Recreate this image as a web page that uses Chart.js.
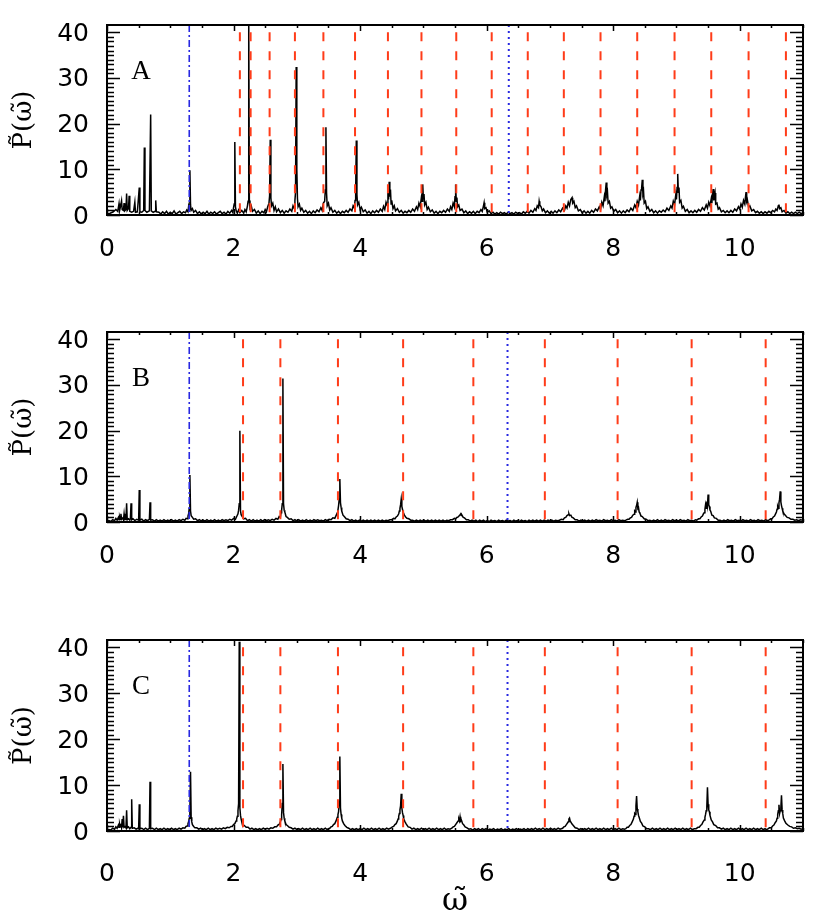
<!DOCTYPE html>
<html>
<head>
<meta charset="utf-8">
<title>Power spectra A, B, C</title>
<script src="https://cdn.jsdelivr.net/npm/chart.js@4.4.0/dist/chart.umd.min.js"></script>
<style>
  body { margin: 0; background: #fff; }
  #wrap { position: relative; width: 830px; height: 922px; }
  .panel { position: absolute; left: 0; width: 830px; }
</style>
</head>
<body>
<div id="wrap">
  <div class="panel" style="top:0;height:260px"><canvas id="chartA"></canvas></div>
  <div class="panel" style="top:307px;height:260px"><canvas id="chartB"></canvas></div>
  <div class="panel" style="top:615px;height:307px"><canvas id="chartC"></canvas></div>
</div>
<script>
// axis ranges and labels
const xRange = [0, 11];
const yRange = [0, 41.6];
const xMajorTicks = [0, 2, 4, 6, 8, 10];
const yMajorTicks = [0, 10, 20, 30, 40];
const yTitle = 'P\u0303(\u03C9\u0303)';
const xTitle = '\u03C9\u0303';

// reference frequencies (vertical lines)
const redA = [2.10, 2.27, 2.57, 2.97, 3.42, 3.92, 4.44, 4.97, 5.52, 6.08, 6.65, 7.22, 7.80, 8.38, 8.97, 9.55, 10.14, 10.73];
const redBC = [2.15, 2.74, 3.65, 4.68, 5.79, 6.92, 8.07, 9.24, 10.41];
const dashDotA = 1.30, dottedA = 6.35;
const dashDotBC = 1.30, dottedBC = 6.33;

// spectra: [omega, power]
const specA = [
  [0.00,0.2],[0.05,0.4],[0.10,0.7],[0.14,1.2],[0.17,0.8],[0.19,2.5],[0.20,1.0],[0.21,1.6],[0.23,3.1],[0.24,1.2],
  [0.26,1.0],[0.27,2.6],[0.28,0.9],[0.30,1.2],[0.31,4.7],[0.32,1.0],[0.34,1.4],[0.35,4.2],[0.36,0.8],[0.39,0.6],
  [0.42,0.8],[0.44,2.8],[0.45,0.6],[0.48,0.7],[0.51,6.0],[0.52,0.7],[0.55,0.6],[0.58,1.0],[0.59,14.8],[0.60,1.0],
  [0.63,0.6],[0.67,0.9],[0.69,22.0],[0.70,0.9],[0.73,0.6],[0.76,0.8],[0.77,3.2],[0.78,0.7],
  [0.82,0.6],[0.85,0.2],[0.88,0.7],[0.91,0.3],[0.94,0.8],[0.97,0.2],[1.00,0.6],[1.03,0.3],[1.06,0.9],[1.09,0.2],
  [1.12,0.5],[1.15,0.8],[1.18,0.3],[1.21,0.7],[1.24,0.5],[1.26,1.1],[1.28,0.7],[1.29,1.9],[1.30,1.2],[1.31,9.8],
  [1.32,2.2],[1.33,1.0],[1.35,1.4],[1.37,0.6],[1.40,1.0],[1.43,0.3],[1.46,0.7],[1.49,0.2],[1.52,0.6],[1.55,0.3],
  [1.58,0.8],[1.61,0.2],[1.64,0.6],[1.67,0.3],[1.70,0.7],[1.73,0.2],[1.76,0.5],[1.79,0.8],[1.82,0.3],[1.85,0.6],
  [1.88,0.2],[1.91,0.8],[1.94,0.4],[1.97,1.0],[1.99,0.5],[2.00,1.6],[2.01,2.4],[2.02,16.0],[2.03,1.8],[2.04,1.0],
  [2.06,0.4],[2.08,1.1],[2.10,0.5],[2.13,1.0],[2.16,0.4],[2.18,1.2],[2.20,0.7],[2.22,2.0],[2.23,3.0],[2.24,44],
  [2.25,3.2],[2.26,1.5],[2.28,2.0],[2.30,0.8],[2.33,1.2],[2.36,0.4],[2.39,0.9],[2.42,0.3],[2.45,0.8],[2.48,0.5],
  [2.50,1.2],[2.52,0.7],[2.54,1.8],[2.56,2.6],[2.57,4.2],[2.58,16.5],[2.59,3.8],[2.60,2.0],[2.62,2.6],[2.64,1.0],
  [2.66,1.8],[2.68,0.7],[2.71,1.3],[2.74,0.5],[2.77,1.0],[2.80,0.4],[2.83,0.9],[2.86,0.6],[2.89,1.3],[2.92,0.8],
  [2.94,2.0],[2.96,1.4],[2.97,3.2],[2.98,5.0],[2.99,32.4],[3.00,10.0],[3.01,3.6],[3.02,1.8],[3.04,2.4],[3.06,1.0],
  [3.08,1.5],[3.11,0.6],[3.14,1.0],[3.17,0.4],[3.20,0.8],[3.23,0.3],[3.26,0.9],[3.29,0.5],[3.32,1.1],[3.35,0.7],
  [3.38,1.6],[3.40,1.0],[3.42,2.6],[3.44,3.0],[3.45,5.5],[3.46,19.2],[3.47,4.8],[3.48,2.0],[3.50,2.6],[3.52,1.1],
  [3.54,1.6],[3.57,0.6],[3.60,1.0],[3.63,0.4],[3.66,0.8],[3.69,0.3],[3.72,0.8],[3.75,0.5],[3.78,1.0],[3.81,0.6],
  [3.84,1.3],[3.87,0.9],[3.89,2.0],[3.91,1.5],[3.92,3.2],[3.93,5.0],[3.94,16.3],[3.95,4.5],[3.96,2.2],[3.98,2.8],
  [4.00,1.2],[4.02,1.7],[4.05,0.7],[4.08,1.1],[4.11,0.4],[4.14,0.8],[4.17,0.3],[4.20,0.9],[4.23,0.5],[4.26,1.0],
  [4.29,0.6],[4.32,1.3],[4.35,0.8],[4.37,1.9],[4.39,1.2],[4.41,2.8],[4.43,2.0],[4.44,4.8],[4.45,3.4],[4.46,7.3],
  [4.47,4.0],[4.48,5.6],[4.49,2.4],[4.50,3.2],[4.52,1.4],[4.54,2.0],[4.56,0.9],[4.59,1.4],[4.62,0.6],[4.65,1.0],
  [4.68,0.4],[4.71,0.8],[4.74,0.5],[4.77,1.0],[4.80,0.6],[4.83,1.3],[4.86,0.8],[4.89,1.8],[4.91,1.2],[4.93,2.6],
  [4.95,1.8],[4.97,4.0],[4.98,3.0],[4.99,6.7],[5.00,3.6],[5.01,4.6],[5.02,2.2],[5.04,2.8],[5.06,1.2],[5.08,1.7],
  [5.11,0.7],[5.14,1.1],[5.17,0.4],[5.20,0.8],[5.23,0.3],[5.26,0.8],[5.29,0.5],[5.32,1.0],[5.35,0.6],[5.38,1.3],
  [5.41,0.8],[5.43,1.8],[5.45,1.2],[5.47,2.6],[5.49,1.8],[5.50,4.0],[5.51,6.7],[5.52,3.0],[5.53,3.8],[5.54,1.8],
  [5.56,2.2],[5.58,1.0],[5.61,1.3],[5.64,0.5],[5.67,0.9],[5.70,0.3],[5.73,0.7],[5.76,0.4],[5.79,0.8],[5.82,0.3],
  [5.85,0.8],[5.88,0.5],[5.91,1.2],[5.93,0.8],[5.95,2.0],[5.96,2.7],[5.97,1.4],[5.99,1.6],[6.01,0.6],[6.04,0.9],
  [6.07,0.3],[6.10,0.6],[6.13,0.2],[6.16,0.5],[6.19,0.2],[6.22,0.6],[6.25,0.3],[6.28,0.5],[6.31,0.2],[6.34,0.6],
  [6.37,0.3],[6.40,0.5],[6.43,0.2],[6.46,0.6],[6.49,0.3],[6.52,0.5],[6.55,0.2],[6.58,0.7],[6.61,0.4],[6.64,0.8],
  [6.67,0.4],[6.70,1.0],[6.73,0.6],[6.76,1.4],[6.78,1.0],[6.80,2.0],[6.82,1.6],[6.83,3.0],[6.84,2.2],[6.86,1.8],
  [6.88,0.9],[6.90,1.3],[6.93,0.5],[6.96,0.9],[6.99,0.4],[7.02,0.8],[7.05,0.4],[7.08,0.9],[7.11,0.5],[7.14,1.1],
  [7.17,0.7],[7.20,1.5],[7.23,1.0],[7.25,2.0],[7.27,1.5],[7.29,2.8],[7.31,2.0],[7.33,3.4],[7.35,3.8],[7.36,2.6],
  [7.38,3.0],[7.40,1.6],[7.42,2.0],[7.45,0.9],[7.48,1.2],[7.51,0.5],[7.54,0.9],[7.57,0.4],[7.60,0.8],[7.63,0.4],
  [7.66,1.0],[7.69,0.6],[7.72,1.3],[7.75,0.9],[7.78,1.8],[7.80,1.2],[7.82,2.8],[7.84,2.0],[7.86,4.0],[7.87,3.0],
  [7.88,5.5],[7.89,7.1],[7.90,4.4],[7.91,5.0],[7.92,2.6],[7.94,3.0],[7.96,1.5],[7.98,1.8],[8.01,0.8],[8.04,1.2],
  [8.07,0.5],[8.10,0.9],[8.13,0.4],[8.16,0.9],[8.19,0.5],[8.22,1.1],[8.25,0.7],[8.28,1.5],[8.31,1.0],[8.34,2.2],
  [8.36,1.6],[8.38,3.0],[8.40,2.2],[8.42,4.2],[8.43,3.2],[8.44,5.5],[8.45,6.0],[8.46,7.7],[8.47,4.6],[8.48,5.2],
  [8.49,2.6],[8.51,3.0],[8.53,1.4],[8.55,1.8],[8.58,0.8],[8.61,1.2],[8.64,0.5],[8.67,0.9],[8.70,0.4],[8.73,0.9],
  [8.76,0.6],[8.79,1.1],[8.82,0.7],[8.85,1.5],[8.88,1.0],[8.91,2.0],[8.93,1.5],[8.95,3.0],[8.97,2.2],[8.99,4.5],
  [9.00,3.4],[9.01,6.0],[9.02,9.0],[9.03,5.0],[9.04,6.0],[9.05,2.8],[9.07,3.2],[9.09,1.5],[9.11,1.9],[9.14,0.8],
  [9.17,1.2],[9.20,0.5],[9.23,0.9],[9.26,0.5],[9.29,1.0],[9.32,0.6],[9.35,1.2],[9.38,0.8],[9.41,1.6],[9.44,1.1],
  [9.47,2.2],[9.49,1.5],[9.51,2.8],[9.53,2.0],[9.55,3.6],[9.56,2.6],[9.57,4.5],[9.58,5.7],[9.59,3.2],[9.60,4.0],
  [9.61,4.8],[9.62,2.4],[9.64,2.6],[9.66,1.3],[9.68,1.6],[9.71,0.7],[9.74,1.0],[9.77,0.5],[9.80,0.9],[9.83,0.5],
  [9.86,1.0],[9.89,0.6],[9.92,1.3],[9.95,0.9],[9.98,1.8],[10.00,1.3],[10.02,2.4],[10.04,1.7],[10.06,3.2],[10.08,2.4],
  [10.09,3.8],[10.10,5.0],[10.11,3.0],[10.12,3.4],[10.14,1.7],[10.16,2.0],[10.19,0.9],[10.22,1.2],[10.25,0.5],[10.28,0.8],
  [10.31,0.4],[10.34,0.7],[10.37,0.3],[10.40,0.7],[10.43,0.4],[10.46,0.8],[10.49,0.5],[10.52,1.0],[10.55,0.7],[10.57,1.3],
  [10.59,1.0],[10.61,2.0],[10.62,2.3],[10.63,1.4],[10.65,1.6],[10.67,0.7],[10.70,1.0],[10.73,0.4],[10.76,0.7],[10.79,0.3],
  [10.82,0.6],[10.85,0.3],[10.88,0.6],[10.91,0.3],[10.94,0.6],[10.97,0.3],[11.00,0.5]
];

const specB = [
  [0.00,0.1],[0.03,0.3],[0.06,0.1],[0.09,0.5],[0.12,0.3],[0.14,0.8],[0.16,0.4],[0.18,1.0],[0.19,0.5],[0.20,1.1],
  [0.21,0.6],[0.22,1.8],[0.23,0.6],[0.25,0.9],[0.26,0.5],[0.27,1.8],[0.28,0.5],[0.30,0.6],[0.31,4.1],[0.32,0.5],
  [0.34,0.7],[0.36,0.4],[0.37,0.8],[0.38,4.1],[0.39,0.5],[0.41,0.7],[0.44,0.3],[0.47,0.6],[0.50,0.4],[0.51,7.0],
  [0.52,0.4],[0.55,0.6],[0.58,0.2],[0.61,0.5],[0.64,0.3],[0.67,0.6],[0.68,4.3],[0.69,0.4],[0.72,0.5],[0.75,0.2],
  [0.78,0.5],[0.81,0.2],[0.84,0.4],[0.87,0.2],[0.90,0.5],[0.93,0.2],[0.96,0.4],[0.99,0.2],[1.02,0.5],[1.05,0.2],
  [1.08,0.4],[1.11,0.2],[1.14,0.5],[1.17,0.3],[1.20,0.6],[1.23,0.4],[1.25,0.8],[1.27,0.7],[1.28,1.3],[1.29,1.8],
  [1.30,3.0],[1.31,10.3],[1.32,2.4],[1.33,1.4],[1.35,1.0],[1.37,0.6],[1.40,0.7],[1.43,0.3],[1.46,0.5],[1.49,0.2],
  [1.52,0.4],[1.55,0.2],[1.58,0.5],[1.61,0.2],[1.64,0.4],[1.67,0.2],[1.70,0.5],[1.73,0.2],[1.76,0.4],[1.79,0.2],
  [1.82,0.5],[1.85,0.3],[1.88,0.5],[1.91,0.3],[1.94,0.6],[1.97,0.4],[2.00,0.8],[2.03,0.6],[2.05,1.2],[2.07,1.8],
  [2.08,2.6],[2.09,4.0],[2.10,20.0],[2.11,2.4],[2.12,1.6],[2.14,1.1],[2.16,0.7],[2.19,0.8],[2.22,0.3],[2.25,0.5],
  [2.28,0.2],[2.31,0.5],[2.34,0.2],[2.37,0.4],[2.40,0.2],[2.43,0.5],[2.46,0.2],[2.49,0.5],[2.52,0.3],[2.55,0.5],
  [2.58,0.3],[2.61,0.6],[2.64,0.4],[2.67,0.8],[2.70,0.6],[2.72,1.2],[2.74,1.0],[2.75,2.0],[2.76,2.6],[2.77,4.0],
  [2.78,31.4],[2.79,4.0],[2.80,2.6],[2.81,2.2],[2.83,1.2],[2.85,1.0],[2.88,0.6],[2.91,0.7],[2.94,0.3],[2.97,0.5],
  [3.00,0.2],[3.03,0.5],[3.06,0.2],[3.09,0.4],[3.12,0.2],[3.15,0.5],[3.18,0.2],[3.21,0.4],[3.24,0.2],[3.27,0.5],
  [3.30,0.3],[3.33,0.5],[3.36,0.3],[3.39,0.4],[3.42,0.2],[3.45,0.5],[3.48,0.3],[3.51,0.6],[3.54,0.5],[3.57,0.9],
  [3.60,0.8],[3.62,1.4],[3.64,2.0],[3.65,2.6],[3.66,3.6],[3.67,5.0],[3.68,9.4],[3.69,4.2],[3.70,3.2],[3.71,2.4],
  [3.73,1.5],[3.75,1.2],[3.78,0.7],[3.81,0.6],[3.84,0.3],[3.87,0.5],[3.90,0.2],[3.93,0.4],[3.96,0.2],[3.99,0.4],
  [4.02,0.2],[4.05,0.4],[4.08,0.2],[4.11,0.4],[4.14,0.2],[4.17,0.4],[4.20,0.2],[4.23,0.4],[4.26,0.2],[4.29,0.4],
  [4.32,0.2],[4.35,0.4],[4.38,0.2],[4.41,0.4],[4.44,0.3],[4.47,0.5],[4.50,0.5],[4.53,0.8],[4.55,0.7],[4.57,1.1],
  [4.59,1.3],[4.61,1.8],[4.62,2.4],[4.63,3.0],[4.64,3.8],[4.65,5.0],[4.66,3.4],[4.67,2.8],[4.68,2.2],[4.70,1.5],
  [4.72,1.1],[4.74,0.8],[4.77,0.7],[4.80,0.4],[4.83,0.4],[4.86,0.2],[4.89,0.4],[4.92,0.2],[4.95,0.4],[4.98,0.2],
  [5.01,0.4],[5.04,0.2],[5.07,0.4],[5.10,0.2],[5.13,0.4],[5.16,0.2],[5.19,0.4],[5.22,0.2],[5.25,0.4],[5.28,0.2],
  [5.31,0.4],[5.34,0.2],[5.37,0.4],[5.40,0.3],[5.43,0.5],[5.46,0.5],[5.49,0.8],[5.51,0.7],[5.53,1.0],[5.55,1.1],
  [5.57,1.4],[5.59,1.8],[5.60,1.4],[5.61,1.5],[5.63,1.0],[5.65,0.9],[5.68,0.5],[5.71,0.5],[5.74,0.2],[5.77,0.4],
  [5.80,0.2],[5.83,0.4],[5.86,0.1],[5.89,0.4],[5.92,0.2],[5.95,0.4],[5.98,0.1],[6.01,0.3],[6.04,0.1],[6.07,0.4],
  [6.10,0.2],[6.13,0.3],[6.16,0.1],[6.19,0.4],[6.22,0.2],[6.25,0.3],[6.28,0.1],[6.31,0.4],[6.34,0.2],[6.37,0.3],
  [6.40,0.1],[6.43,0.4],[6.46,0.2],[6.49,0.3],[6.52,0.1],[6.55,0.4],[6.58,0.2],[6.61,0.3],[6.64,0.1],[6.67,0.4],
  [6.70,0.2],[6.73,0.4],[6.76,0.2],[6.79,0.4],[6.82,0.2],[6.85,0.4],[6.88,0.2],[6.91,0.4],[6.94,0.2],[6.97,0.4],
  [7.00,0.2],[7.03,0.4],[7.06,0.2],[7.09,0.4],[7.12,0.3],[7.15,0.4],[7.18,0.6],[7.21,0.5],[7.23,0.9],[7.25,1.0],
  [7.27,1.4],[7.29,1.6],[7.30,1.8],[7.31,1.4],[7.33,1.5],[7.35,1.0],[7.37,0.9],[7.40,0.5],[7.43,0.5],[7.46,0.2],
  [7.49,0.4],[7.52,0.2],[7.55,0.4],[7.58,0.2],[7.61,0.4],[7.64,0.2],[7.67,0.4],[7.70,0.2],[7.73,0.5],[7.76,0.3],
  [7.79,0.4],[7.82,0.2],[7.85,0.5],[7.88,0.3],[7.91,0.4],[7.94,0.2],[7.97,0.5],[8.00,0.3],[8.03,0.4],[8.06,0.2],
  [8.09,0.5],[8.12,0.3],[8.15,0.4],[8.18,0.3],[8.20,0.4],[8.23,0.6],[8.25,0.6],[8.27,0.9],[8.29,1.0],[8.31,1.5],
  [8.33,1.7],[8.34,2.4],[8.35,2.2],[8.36,3.2],[8.37,3.6],[8.38,4.3],[8.39,3.0],[8.40,3.2],[8.41,2.2],[8.42,2.0],
  [8.44,1.3],[8.46,1.2],[8.49,0.7],[8.52,0.6],[8.55,0.3],[8.58,0.4],[8.61,0.2],[8.64,0.4],[8.67,0.2],[8.70,0.5],
  [8.73,0.2],[8.76,0.4],[8.79,0.2],[8.82,0.5],[8.85,0.3],[8.88,0.4],[8.91,0.2],[8.94,0.5],[8.97,0.3],[9.00,0.4],
  [9.03,0.2],[9.06,0.5],[9.09,0.3],[9.12,0.4],[9.15,0.2],[9.18,0.5],[9.21,0.3],[9.24,0.4],[9.27,0.2],[9.30,0.5],
  [9.32,0.4],[9.35,0.7],[9.37,0.7],[9.39,1.1],[9.41,1.3],[9.43,1.9],[9.44,2.0],[9.45,2.8],[9.46,3.8],[9.47,3.0],
  [9.48,4.5],[9.49,3.6],[9.50,6.0],[9.51,3.8],[9.52,3.4],[9.53,2.6],[9.54,2.4],[9.56,1.5],[9.58,1.4],[9.60,0.9],
  [9.63,0.8],[9.66,0.4],[9.69,0.4],[9.72,0.2],[9.75,0.4],[9.78,0.2],[9.81,0.5],[9.84,0.3],[9.87,0.4],[9.90,0.2],
  [9.93,0.5],[9.96,0.3],[9.99,0.4],[10.02,0.2],[10.05,0.5],[10.08,0.3],[10.11,0.4],[10.14,0.2],[10.17,0.5],[10.20,0.3],
  [10.23,0.4],[10.26,0.2],[10.29,0.5],[10.32,0.3],[10.35,0.4],[10.38,0.2],[10.41,0.5],[10.44,0.3],[10.46,0.4],[10.49,0.7],
  [10.51,0.7],[10.53,1.1],[10.55,1.3],[10.57,1.9],[10.58,2.2],[10.59,2.8],[10.60,3.4],[10.61,3.0],[10.62,4.2],[10.63,5.0],
  [10.64,6.7],[10.65,4.4],[10.66,3.6],[10.67,3.0],[10.68,2.4],[10.70,1.8],[10.72,1.5],[10.75,1.0],[10.78,0.9],[10.81,0.6],
  [10.84,0.6],[10.87,0.4],[10.90,0.5],[10.93,0.3],[10.96,0.5],[11.00,0.4]
];

const specC = [
  [0.00,0.1],[0.03,0.3],[0.06,0.2],[0.09,0.6],[0.12,0.4],[0.14,0.9],[0.16,0.6],[0.18,1.3],[0.19,0.8],[0.20,1.5],
  [0.21,0.9],[0.22,1.6],[0.23,0.8],[0.24,2.6],[0.25,0.8],[0.26,3.3],[0.27,0.8],[0.29,1.0],[0.30,0.7],[0.31,4.5],
  [0.32,0.7],[0.34,0.9],[0.36,0.5],[0.38,0.8],[0.39,6.9],[0.40,0.6],[0.43,0.7],[0.46,0.4],[0.49,0.6],[0.50,0.5],
  [0.51,5.8],[0.52,0.5],[0.55,0.6],[0.58,0.3],[0.61,0.6],[0.64,0.3],[0.67,0.6],[0.68,10.7],[0.69,0.5],[0.72,0.6],
  [0.75,0.3],[0.78,0.6],[0.81,0.3],[0.84,0.5],[0.87,0.3],[0.90,0.6],[0.93,0.3],[0.96,0.5],[0.99,0.3],[1.02,0.6],
  [1.05,0.3],[1.08,0.5],[1.11,0.3],[1.14,0.6],[1.17,0.4],[1.20,0.7],[1.23,0.6],[1.25,1.0],[1.27,1.1],[1.28,1.6],
  [1.29,2.0],[1.30,2.8],[1.31,4.0],[1.32,12.9],[1.33,3.0],[1.34,2.0],[1.35,1.4],[1.37,1.0],[1.39,0.7],[1.42,0.7],
  [1.45,0.4],[1.48,0.6],[1.51,0.3],[1.54,0.5],[1.57,0.3],[1.60,0.6],[1.63,0.3],[1.66,0.5],[1.69,0.3],[1.72,0.6],
  [1.75,0.4],[1.78,0.6],[1.81,0.4],[1.84,0.7],[1.87,0.5],[1.90,0.8],[1.93,0.7],[1.96,1.0],[1.98,1.0],[2.00,1.4],
  [2.02,1.6],[2.04,2.2],[2.05,2.6],[2.06,3.2],[2.07,4.4],[2.08,6.0],[2.09,41.2],[2.10,5.0],[2.11,3.4],[2.12,2.6],
  [2.13,2.0],[2.15,1.4],[2.17,1.2],[2.20,0.8],[2.23,0.8],[2.26,0.4],[2.29,0.6],[2.32,0.3],[2.35,0.5],[2.38,0.3],
  [2.41,0.5],[2.44,0.3],[2.47,0.6],[2.50,0.4],[2.53,0.6],[2.56,0.4],[2.59,0.7],[2.62,0.6],[2.65,0.9],[2.68,0.9],
  [2.70,1.3],[2.72,1.4],[2.74,2.0],[2.75,2.5],[2.76,3.5],[2.77,6.0],[2.78,14.6],[2.79,4.0],[2.80,2.8],[2.81,2.2],
  [2.83,1.4],[2.85,1.2],[2.88,0.8],[2.91,0.7],[2.94,0.4],[2.97,0.6],[3.00,0.3],[3.03,0.5],[3.06,0.3],[3.09,0.6],
  [3.12,0.3],[3.15,0.5],[3.18,0.3],[3.21,0.6],[3.24,0.3],[3.27,0.5],[3.30,0.3],[3.33,0.6],[3.36,0.3],[3.39,0.5],
  [3.42,0.3],[3.45,0.6],[3.48,0.3],[3.50,0.5],[3.52,0.6],[3.54,0.9],[3.56,1.0],[3.58,1.4],[3.60,1.6],[3.62,2.2],
  [3.64,3.0],[3.65,3.6],[3.66,4.2],[3.67,6.5],[3.68,16.2],[3.69,5.0],[3.70,3.6],[3.71,2.8],[3.72,2.2],[3.74,1.6],
  [3.76,1.2],[3.79,0.8],[3.82,0.6],[3.85,0.3],[3.88,0.5],[3.91,0.3],[3.94,0.5],[3.97,0.3],[4.00,0.5],[4.03,0.3],
  [4.06,0.6],[4.09,0.3],[4.12,0.5],[4.15,0.3],[4.18,0.6],[4.21,0.3],[4.24,0.5],[4.27,0.3],[4.30,0.6],[4.33,0.3],
  [4.36,0.5],[4.39,0.3],[4.42,0.6],[4.45,0.4],[4.48,0.6],[4.51,0.9],[4.53,1.0],[4.55,1.4],[4.57,1.6],[4.59,2.2],
  [4.60,2.6],[4.61,3.2],[4.62,3.8],[4.63,4.6],[4.64,5.5],[4.65,8.1],[4.66,5.0],[4.67,4.0],[4.68,3.4],[4.69,2.6],
  [4.71,2.0],[4.73,1.5],[4.76,0.9],[4.79,0.8],[4.82,0.4],[4.85,0.6],[4.88,0.3],[4.91,0.5],[4.94,0.3],[4.97,0.6],
  [5.00,0.3],[5.03,0.5],[5.06,0.3],[5.09,0.6],[5.12,0.3],[5.15,0.5],[5.18,0.3],[5.21,0.6],[5.24,0.3],[5.27,0.5],
  [5.30,0.3],[5.33,0.6],[5.36,0.3],[5.39,0.5],[5.42,0.4],[5.45,0.6],[5.47,0.9],[5.49,1.0],[5.51,1.4],[5.53,1.8],
  [5.55,2.2],[5.56,2.6],[5.57,2.2],[5.58,3.1],[5.59,2.2],[5.60,2.4],[5.62,1.6],[5.64,1.3],[5.66,0.9],[5.69,0.7],
  [5.72,0.4],[5.75,0.5],[5.78,0.2],[5.81,0.5],[5.84,0.3],[5.87,0.5],[5.90,0.2],[5.93,0.5],[5.96,0.3],[5.99,0.5],
  [6.02,0.2],[6.05,0.4],[6.08,0.3],[6.11,0.5],[6.14,0.2],[6.17,0.4],[6.20,0.3],[6.23,0.5],[6.26,0.2],[6.29,0.4],
  [6.32,0.3],[6.35,0.5],[6.38,0.2],[6.41,0.4],[6.44,0.3],[6.47,0.5],[6.50,0.2],[6.53,0.4],[6.56,0.3],[6.59,0.5],
  [6.62,0.2],[6.65,0.5],[6.68,0.3],[6.71,0.5],[6.74,0.3],[6.77,0.6],[6.80,0.3],[6.83,0.5],[6.86,0.3],[6.89,0.6],
  [6.92,0.3],[6.95,0.5],[6.98,0.3],[7.01,0.6],[7.04,0.3],[7.07,0.5],[7.10,0.3],[7.13,0.6],[7.16,0.4],[7.18,0.5],
  [7.20,0.6],[7.22,0.9],[7.24,1.0],[7.26,1.4],[7.28,1.8],[7.29,2.0],[7.30,2.6],[7.31,2.8],[7.32,2.2],[7.33,2.2],
  [7.35,1.5],[7.37,1.2],[7.40,0.7],[7.43,0.6],[7.46,0.3],[7.49,0.5],[7.52,0.3],[7.55,0.5],[7.58,0.3],[7.61,0.6],
  [7.64,0.3],[7.67,0.5],[7.70,0.3],[7.73,0.6],[7.76,0.3],[7.79,0.5],[7.82,0.3],[7.85,0.6],[7.88,0.3],[7.91,0.5],
  [7.94,0.3],[7.97,0.6],[8.00,0.3],[8.03,0.5],[8.06,0.3],[8.09,0.6],[8.12,0.3],[8.15,0.5],[8.18,0.4],[8.20,0.5],
  [8.22,0.8],[8.24,0.8],[8.26,1.2],[8.28,1.4],[8.30,2.0],[8.32,2.6],[8.33,3.2],[8.34,3.8],[8.35,3.6],[8.36,5.5],
  [8.37,7.6],[8.38,4.8],[8.39,4.2],[8.40,3.4],[8.41,3.0],[8.43,2.1],[8.45,1.7],[8.47,1.1],[8.50,0.9],[8.53,0.5],
  [8.56,0.5],[8.59,0.3],[8.62,0.6],[8.65,0.3],[8.68,0.5],[8.71,0.3],[8.74,0.6],[8.77,0.3],[8.80,0.5],[8.83,0.3],
  [8.86,0.6],[8.89,0.3],[8.92,0.5],[8.95,0.3],[8.98,0.6],[9.01,0.3],[9.04,0.5],[9.07,0.3],[9.10,0.6],[9.13,0.3],
  [9.16,0.5],[9.19,0.3],[9.22,0.6],[9.25,0.3],[9.28,0.5],[9.31,0.5],[9.34,0.8],[9.36,0.8],[9.38,1.2],[9.40,1.4],
  [9.42,2.0],[9.44,2.4],[9.45,3.0],[9.46,3.6],[9.47,4.4],[9.48,5.2],[9.49,9.5],[9.50,5.8],[9.51,4.6],[9.52,4.2],
  [9.53,3.4],[9.55,2.4],[9.57,2.0],[9.59,1.4],[9.62,1.2],[9.65,0.7],[9.68,0.7],[9.71,0.4],[9.74,0.6],[9.77,0.3],
  [9.80,0.5],[9.83,0.3],[9.86,0.6],[9.89,0.3],[9.92,0.5],[9.95,0.3],[9.98,0.6],[10.01,0.3],[10.04,0.5],[10.07,0.3],
  [10.10,0.6],[10.13,0.3],[10.16,0.5],[10.19,0.3],[10.22,0.6],[10.25,0.3],[10.28,0.5],[10.31,0.3],[10.34,0.6],[10.37,0.3],
  [10.40,0.5],[10.42,0.3],[10.44,0.4],[10.47,0.7],[10.50,0.7],[10.52,1.1],[10.54,1.3],[10.56,1.8],[10.58,2.2],[10.59,2.8],
  [10.60,3.6],[10.61,4.4],[10.62,5.7],[10.63,3.8],[10.64,4.4],[10.65,5.0],[10.66,7.8],[10.67,4.6],[10.68,3.8],[10.69,2.8],
  [10.71,2.2],[10.73,1.7],[10.76,1.3],[10.79,1.0],[10.82,0.9],[10.85,0.6],[10.88,0.7],[10.91,0.5],[10.94,0.6],[10.97,0.4],
  [11.00,0.5]
];

const RED = 'rgb(255, 60, 25)';
const BLUE = 'rgb(40, 40, 225)';
const redTop = 40;

Chart.defaults.color = '#000';
Chart.defaults.font.family = '"DejaVu Sans", sans-serif';

// IDL style frame with inward ticks + panel letter
function framePlugin(letter) {
  return {
    id: 'frame' + letter,
    afterDraw(chart) {
      const ctx = chart.ctx;
      const {left, right, top, bottom} = chart.chartArea;
      const xs = chart.scales.x, ys = chart.scales.y;
      ctx.save();
      ctx.strokeStyle = '#000';
      ctx.lineWidth = 1.5;
      ys.ticks.forEach(t => {
        if (!Number.isInteger(t.value)) return;
        const py = Math.round(ys.getPixelForValue(t.value)) + 0.5;
        const len = yMajorTicks.includes(t.value) ? 13 : 7;
        ctx.beginPath();
        ctx.moveTo(left, py); ctx.lineTo(left + len, py);
        ctx.moveTo(right, py); ctx.lineTo(right - len, py);
        ctx.stroke();
      });
      xs.ticks.forEach(t => {
        const px = Math.round(xs.getPixelForValue(t.value)) + 0.5;
        const len = t.value % 2 === 0 ? 6 : 3;
        ctx.beginPath();
        ctx.moveTo(px, top); ctx.lineTo(px, top + len);
        ctx.moveTo(px, bottom); ctx.lineTo(px, bottom - len);
        ctx.stroke();
      });
      ctx.lineWidth = 2;
      ctx.strokeRect(left, top, right - left, bottom - top);
      ctx.fillStyle = '#000';
      ctx.font = '27px "Liberation Serif", serif';
      ctx.textAlign = 'center';
      ctx.textBaseline = 'alphabetic';
      ctx.fillText(letter, left + 34, top + 54);
      ctx.restore();
    }
  };
}

function vline(x, y0, y1, color, width, dash) {
  return {
    data: [{x: x, y: y0}, {x: x, y: y1}],
    borderColor: color, borderWidth: width, borderDash: dash,
    pointRadius: 0, fill: false
  };
}

function makePanel(id, letter, spec, reds, dashDotX, dotX, axisH, labelPad, withXTitle) {
  const datasets = [];
  reds.forEach(v => datasets.push(vline(v, redTop, 0, RED, 2, [9, 10])));
  datasets.push(vline(dashDotX, yRange[1], yRange[0], BLUE, 1.6, [7, 3, 2, 3]));
  datasets.push(vline(dotX, yRange[1], yRange[0], BLUE, 2, [2, 4]));
  datasets.push({
    data: spec.map(p => ({x: p[0], y: p[1]})),
    borderColor: '#000', borderWidth: 1.5, pointRadius: 0, fill: false, tension: 0
  });

  new Chart(document.getElementById(id), {
    type: 'line',
    data: {datasets: datasets},
    plugins: [framePlugin(letter)],
    options: {
      responsive: true,
      maintainAspectRatio: false,
      animation: false,
      layout: {padding: {top: 13, right: 27, left: 0, bottom: 0}},
      plugins: {legend: {display: false}, tooltip: {enabled: false}},
      scales: {
        x: {
          type: 'linear',
          min: xRange[0], max: xRange[1],
          grid: {display: false},
          border: {display: false},
          ticks: {
            stepSize: 0.5, autoSkip: false, maxRotation: 0, padding: labelPad,
            font: {size: 25},
            callback: v => xMajorTicks.includes(v) ? String(v) : ''
          },
          title: {
            display: withXTitle, text: xTitle,
            font: {family: '"DejaVu Serif", serif', size: 32},
            padding: {top: 0, bottom: 1}
          },
          afterFit: s => { s.height = axisH; }
        },
        y: {
          min: yRange[0], max: yRange[1],
          grid: {display: false},
          border: {display: false},
          ticks: {
            stepSize: 1, autoSkip: false, padding: 10, labelOffset: 2,
            font: {size: 25},
            callback: v => yMajorTicks.includes(v) ? String(v) : ''
          },
          title: {
            display: true, text: yTitle,
            font: {family: '"DejaVu Serif", serif', size: 26},
            padding: {top: 9, bottom: 0}
          },
          afterFit: s => { s.width = 107; }
        }
      }
    }
  });
}

makePanel('chartA', 'A', specA, redA, dashDotA, dottedA, 45, 11, false);
makePanel('chartB', 'B', specB, redBC, dashDotBC, dottedBC, 45, 11, false);
makePanel('chartC', 'C', specC, redBC, dashDotBC, dottedBC, 91, 20, true);
</script>
</body>
</html>
